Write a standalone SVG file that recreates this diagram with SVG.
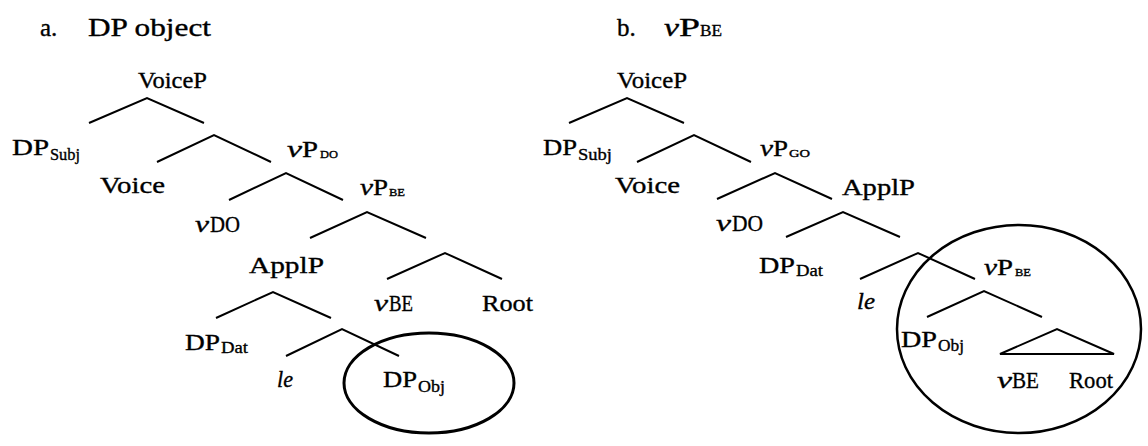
<svg xmlns="http://www.w3.org/2000/svg" width="1148" height="446" viewBox="0 0 1148 446">
<style>
text{font-family:"Liberation Serif","Times New Roman",serif;font-size:24px;fill:#000;stroke:#000;stroke-width:0.35}
.ttl{font-size:25px}
.it{font-style:italic}
.sub{font-size:17px}
.sc{font-size:11px}
.e{fill:none;stroke:#000;stroke-width:2}
.circ{fill:none;stroke:#000}
</style>
<rect width="1148" height="446" fill="#fff"/>
<g id="title-a"><text class="ttl" x="40" y="36">a.</text><text class="ttl" x="88" y="36" textLength="123" lengthAdjust="spacingAndGlyphs">DP object</text></g>
<g id="title-b"><text class="ttl" x="617" y="36">b.<tspan class="it" x="664" textLength="15" lengthAdjust="spacingAndGlyphs">v</tspan><tspan x="679" textLength="21" lengthAdjust="spacingAndGlyphs">P</tspan><tspan x="700" style="font-size:16px" textLength="22" lengthAdjust="spacingAndGlyphs">BE</tspan></text></g>

<g id="connectors">
<polyline class="e" points="89,123 147,98 204,123"/>
<polyline class="e" points="157,162 214,135 271,162"/>
<polyline class="e" points="229,200 286,173 343,200"/>
<polyline class="e" points="310,238 367,212 426,238"/>
<polyline class="e" points="216,318 273,292 331,318"/>
<polyline class="e" points="387,279 445,253 502,279"/>
<polyline class="e" points="286,356 342,329 399,356"/>
<polyline class="e" points="569,123 627,98 684,123"/>
<polyline class="e" points="637,162 694,135 751,162"/>
<polyline class="e" points="717,199 775,173 832,199"/>
<polyline class="e" points="786,237 843,212 900,237"/>
<polyline class="e" points="860,279 918,253 975,279"/>
<polyline class="e" points="927,317 984,291 1042,317"/>
<polygon class="e" points="1000,354 1057,329 1114,354"/>
</g>

<g id="a-VoiceP"><text x="138" y="88" textLength="69" lengthAdjust="spacingAndGlyphs">VoiceP</text></g>
<g id="a-DPSubj"><text x="12" y="155"><tspan textLength="37" lengthAdjust="spacingAndGlyphs">DP</tspan><tspan class="sub" x="50" y="160" textLength="30" lengthAdjust="spacingAndGlyphs">Subj</tspan></text></g>
<g id="a-Voice"><text x="100" y="193" textLength="65" lengthAdjust="spacingAndGlyphs">Voice</text></g>
<g id="a-vPDO"><text x="287" y="157"><tspan class="it" textLength="15" lengthAdjust="spacingAndGlyphs">v</tspan><tspan x="302" textLength="16" lengthAdjust="spacingAndGlyphs">P</tspan><tspan class="sc" x="320" y="158" textLength="18" lengthAdjust="spacingAndGlyphs">DO</tspan></text></g>
<g id="a-vDO"><text x="195" y="232"><tspan class="it" textLength="14" lengthAdjust="spacingAndGlyphs">v</tspan><tspan x="210" textLength="30" lengthAdjust="spacingAndGlyphs">DO</tspan></text></g>
<g id="a-vPBE"><text x="360" y="195"><tspan class="it" textLength="13" lengthAdjust="spacingAndGlyphs">v</tspan><tspan x="373" textLength="15" lengthAdjust="spacingAndGlyphs">P</tspan><tspan class="sc" x="389" y="196" textLength="16" lengthAdjust="spacingAndGlyphs">BE</tspan></text></g>
<g id="a-ApplP"><text x="249" y="273" textLength="75" lengthAdjust="spacingAndGlyphs">ApplP</text></g>
<g id="a-vBE"><text x="374" y="311"><tspan class="it" textLength="14" lengthAdjust="spacingAndGlyphs">v</tspan><tspan x="389" textLength="24" lengthAdjust="spacingAndGlyphs">BE</tspan></text></g>
<g id="a-Root"><text x="482" y="311" textLength="51" lengthAdjust="spacingAndGlyphs">Root</text></g>
<g id="a-DPDat"><text x="185" y="350"><tspan textLength="35" lengthAdjust="spacingAndGlyphs">DP</tspan><tspan class="sub" x="221" y="353" textLength="27" lengthAdjust="spacingAndGlyphs">Dat</tspan></text></g>
<g id="a-le"><text class="it" x="277" y="387" textLength="16" lengthAdjust="spacingAndGlyphs">le</text></g>
<g id="a-DPObj"><text x="383" y="387"><tspan textLength="34" lengthAdjust="spacingAndGlyphs">DP</tspan><tspan class="sub" x="418" y="392" textLength="27" lengthAdjust="spacingAndGlyphs">Obj</tspan></text><ellipse class="circ" stroke-width="3" cx="429" cy="383" rx="85" ry="50"/></g>

<g id="b-VoiceP"><text x="617" y="88" textLength="70" lengthAdjust="spacingAndGlyphs">VoiceP</text></g>
<g id="b-DPSubj"><text x="543" y="155"><tspan textLength="34" lengthAdjust="spacingAndGlyphs">DP</tspan><tspan class="sub" x="578" y="160" textLength="34" lengthAdjust="spacingAndGlyphs">Subj</tspan></text></g>
<g id="b-Voice"><text x="615" y="193" textLength="65" lengthAdjust="spacingAndGlyphs">Voice</text></g>
<g id="b-vPGO"><text x="760" y="156"><tspan class="it" textLength="13" lengthAdjust="spacingAndGlyphs">v</tspan><tspan x="773" textLength="15" lengthAdjust="spacingAndGlyphs">P</tspan><tspan class="sc" x="789" y="157" textLength="21" lengthAdjust="spacingAndGlyphs">GO</tspan></text></g>
<g id="b-vDO"><text x="716" y="231"><tspan class="it" textLength="15" lengthAdjust="spacingAndGlyphs">v</tspan><tspan x="732" textLength="31" lengthAdjust="spacingAndGlyphs">DO</tspan></text></g>
<g id="b-ApplP"><text x="842" y="195" textLength="73" lengthAdjust="spacingAndGlyphs">ApplP</text></g>
<g id="b-DPDat"><text x="759" y="273"><tspan textLength="36" lengthAdjust="spacingAndGlyphs">DP</tspan><tspan class="sub" x="796" y="276" textLength="27" lengthAdjust="spacingAndGlyphs">Dat</tspan></text></g>
<g id="b-le"><text class="it" x="857" y="309" textLength="18" lengthAdjust="spacingAndGlyphs">le</text></g>
<g id="b-vPBE"><text x="984" y="275"><tspan class="it" textLength="13" lengthAdjust="spacingAndGlyphs">v</tspan><tspan x="997" textLength="16" lengthAdjust="spacingAndGlyphs">P</tspan><tspan class="sc" x="1015" y="276" textLength="16" lengthAdjust="spacingAndGlyphs">BE</tspan></text></g>
<g id="b-DPObj"><text x="901" y="347"><tspan textLength="36" lengthAdjust="spacingAndGlyphs">DP</tspan><tspan class="sub" x="938" y="351" textLength="26" lengthAdjust="spacingAndGlyphs">Obj</tspan></text></g>
<g id="b-vBE"><text x="997" y="388"><tspan class="it" textLength="15" lengthAdjust="spacingAndGlyphs">v</tspan><tspan x="1012" textLength="27" lengthAdjust="spacingAndGlyphs">BE</tspan></text></g>
<g id="b-Root"><text x="1069" y="388" textLength="44" lengthAdjust="spacingAndGlyphs">Root</text></g>
<g id="b-vPBE-circle"><ellipse class="circ" stroke-width="2.5" cx="1019" cy="329" rx="122" ry="104"/></g>
</svg>
